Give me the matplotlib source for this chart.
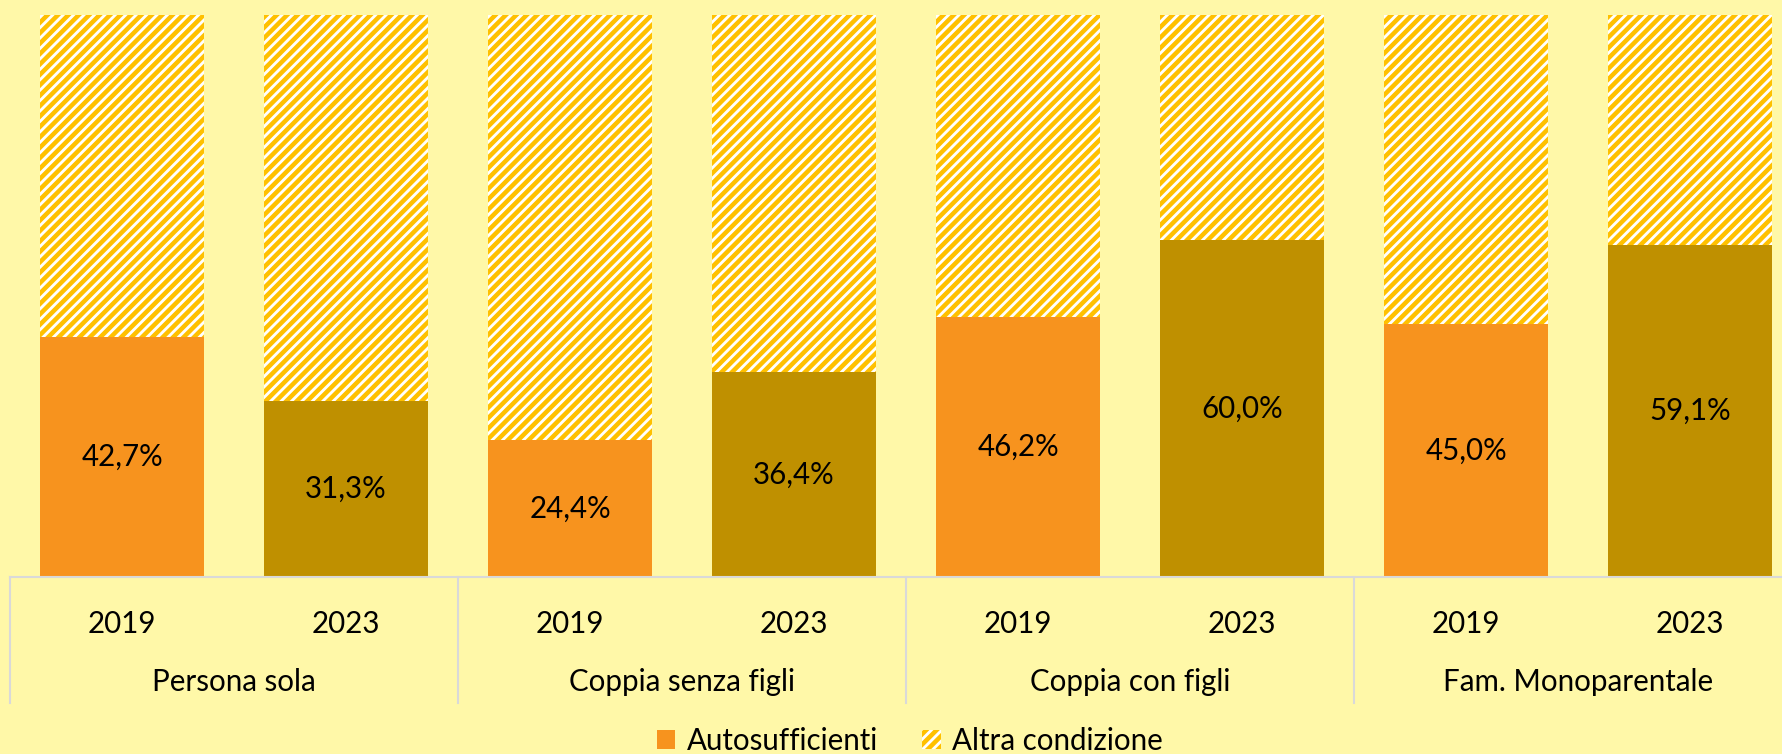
import matplotlib
matplotlib.use('Agg')
import matplotlib.pyplot as plt
import matplotlib.transforms as mtransforms
from matplotlib.patches import Patch
from matplotlib.lines import Line2D

groups = ["Persona sola", "Coppia senza figli", "Coppia con figli", "Fam. Monoparentale"]
years = ["2019", "2023"]
autosufficienti = [42.7, 31.3, 24.4, 36.4, 46.2, 60.0, 45.0, 59.1]
altra_condizione = [100 - v for v in autosufficienti]

bg = '#FFF8A8'
col_2019 = '#F7931E'
col_2023 = '#BF9000'
hatch_col = '#FFC000'
fs = 17

plt.rcParams['font.family'] = ['Lato', 'DejaVu Sans']
plt.rcParams['hatch.linewidth'] = 2.6
plt.rcParams['hatch.color'] = hatch_col

figure = plt.figure(figsize=(14.256, 6.032), dpi=125, facecolor=bg)
# axes run a bit past the right edge, like in the original crop
ax = figure.add_axes([10 / 1782, 177 / 754, 1792 / 1782, 562 / 754])
ax.set_facecolor(bg)

x = list(range(len(autosufficienti)))
colors = [col_2019 if i % 2 == 0 else col_2023 for i in x]
width = 0.735

ax.bar(x, autosufficienti, width, color=colors, linewidth=0)
ax.bar(x, altra_condizione, width, bottom=autosufficienti, color='white',
       edgecolor=hatch_col, hatch='////', linewidth=0)

for i in x:
    v = autosufficienti[i]
    ax.text(i, v / 2, ("%.1f%%" % v).replace('.', ','), ha='center', va='center',
            fontsize=fs, color='black')

ax.set_xlim(-0.5, len(x) - 0.5)
ax.set_ylim(0, 100)
ax.set_yticks([])
ax.set_xticks(x)
ax.set_xticklabels(years * len(groups), fontsize=fs)
ax.tick_params(axis='x', length=0, pad=19)
for s in ['top', 'right', 'left']:
    ax.spines[s].set_visible(False)
ax.spines['bottom'].set_color('#D9D9D9')
ax.spines['bottom'].set_linewidth(1.2)

# group labels and separators below the axis
trans = mtransforms.blended_transform_factory(ax.transData, figure.transFigure)
for g in range(len(groups)):
    ax.text(2 * g + 0.5, (754 - 682) / 754, groups[g], transform=trans,
            ha='center', va='center', fontsize=fs)
for g in range(len(groups) + 1):
    ax.add_line(Line2D([2 * g - 0.5, 2 * g - 0.5], [(754 - 577) / 754, (754 - 703) / 754],
                       transform=trans, color='#D9D9D9', linewidth=1.2, clip_on=False))

handles = [Patch(facecolor=col_2019, linewidth=0, label="Autosufficienti"),
           Patch(facecolor='white', edgecolor=hatch_col, hatch='////', linewidth=0,
                 label="Altra condizione")]
figure.legend(handles=handles, loc='center', bbox_to_anchor=(910 / 1782, (754 - 741) / 754),
              ncol=2, frameon=False, fontsize=fs, handlelength=0.62, handleheight=0.62,
              handletextpad=0.4, columnspacing=1.5, borderaxespad=0, borderpad=0)

plt.savefig("out.png", facecolor=bg)
